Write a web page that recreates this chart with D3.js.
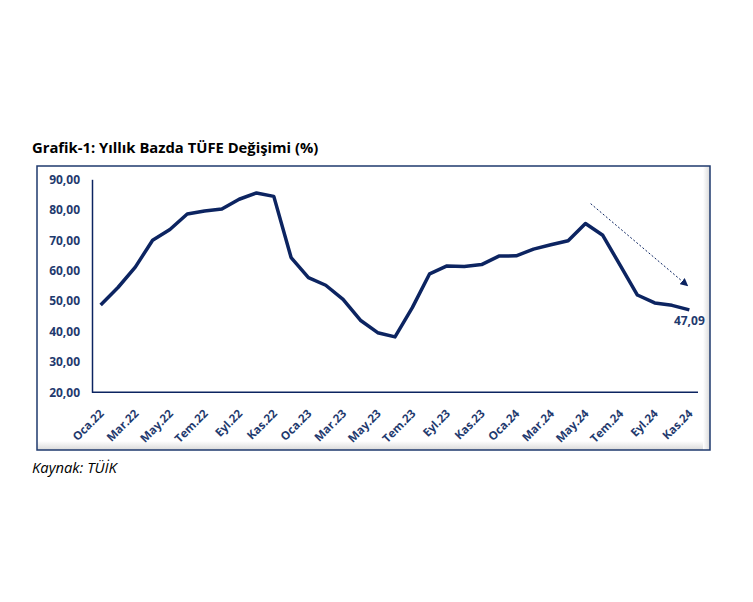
<!DOCTYPE html>
<html><head><meta charset="utf-8">
<script src="https://cdn.jsdelivr.net/npm/d3@7"></script>
<style>body{margin:0;background:#fff;}svg{display:block;}</style>
</head><body>
<svg id="c" width="753" height="602"></svg>
<script>
const months = ["Oca.22","Şub.22","Mar.22","Nis.22","May.22","Haz.22","Tem.22","Ağu.22","Eyl.22","Eki.22","Kas.22","Ara.22",
"Oca.23","Şub.23","Mar.23","Nis.23","May.23","Haz.23","Tem.23","Ağu.23","Eyl.23","Eki.23","Kas.23","Ara.23",
"Oca.24","Şub.24","Mar.24","Nis.24","May.24","Haz.24","Tem.24","Ağu.24","Eyl.24","Eki.24","Kas.24"];
const cpi = [48.69,54.44,61.14,69.97,73.50,78.62,79.60,80.21,83.45,85.51,84.39,64.27,
57.68,55.18,50.51,43.68,39.59,38.21,47.83,58.94,61.53,61.36,61.98,64.77,
64.86,67.07,68.50,69.80,75.45,71.60,61.78,51.97,49.38,48.58,47.09];
const yTicks = [20,30,40,50,60,70,80,90];
const title = "Grafik-1: Yıllık Bazda TÜFE Değişimi (%)";
const source = "Kaynak: TÜİK";
const lastLabel = "47,09";
// trend arrow (index position, value)
const arrowFrom = [28.3, 82];
const arrowTo = [33.9, 55];

const navy = "#0c2461", txt = "#1f3a6e";
const font = "'Open Sans', sans-serif";
const svg = d3.select("#c");

const defs = svg.append("defs");
const gb = defs.append("linearGradient").attr("id","gb").attr("x1",0).attr("y1",0).attr("x2",0).attr("y2",1);
gb.append("stop").attr("offset","0%").attr("stop-color","#fff");
gb.append("stop").attr("offset","100%").attr("stop-color","#d9d9d9");
const gr = defs.append("linearGradient").attr("id","gr").attr("x1",0).attr("y1",0).attr("x2",1).attr("y2",0);
gr.append("stop").attr("offset","0%").attr("stop-color","#fff");
gr.append("stop").attr("offset","100%").attr("stop-color","#d9d9d9");
defs.append("marker").attr("id","ah").attr("viewBox","0 0 10 10").attr("refX",9).attr("refY",5)
  .attr("markerWidth",8).attr("markerHeight",8).attr("orient","auto")
  .append("path").attr("d","M0,0L10,5L0,10z").attr("fill",navy);

// frame
svg.append("rect").attr("x",37).attr("y",441).attr("width",673).attr("height",9).attr("fill","url(#gb)");
svg.append("rect").attr("x",703).attr("y",166).attr("width",7).attr("height",284).attr("fill","url(#gr)");
svg.append("rect").attr("x",37).attr("y",166).attr("width",673).attr("height",284)
  .attr("fill","none").attr("stroke","#1f3a6e").attr("stroke-width",1.5);

svg.append("text").attr("x",32).attr("y",153).attr("font-family",font).attr("font-weight",700)
  .attr("font-size",14.8).attr("fill","#000").text(title);
svg.append("text").attr("x",32).attr("y",473).attr("font-family",font).attr("font-style","italic")
  .attr("font-size",14.8).attr("fill","#000").text(source);

const x = d3.scaleBand().domain(months).range([92,698]);
const y = d3.scaleLinear().domain([20,90]).range([392.3,179.3]);
const cx = i => x(months[0]) + x.bandwidth()/2 + i*x.step();

// axes
const ya = svg.append("g").attr("transform","translate(92,0)")
  .call(d3.axisLeft(y).tickValues(yTicks).tickSize(0).tickPadding(12).tickFormat(d=>d3.format(".2f")(d).replace(".",",")));
ya.select(".domain").attr("stroke",navy).attr("stroke-width",1.5);
ya.selectAll("text").attr("font-family",font).attr("font-weight",700).attr("font-size",12).attr("fill",txt);

const xa = svg.append("g").attr("transform","translate(0,392.3)")
  .call(d3.axisBottom(x).tickValues(months.filter((d,i)=>i%2===0)).tickSize(0).tickPadding(0));
xa.select(".domain").attr("stroke",navy).attr("stroke-width",1.5).attr("d","M92,0H698");
xa.selectAll("text").attr("font-family",font).attr("font-weight",700).attr("font-size",11.5).attr("fill",txt)
  .attr("text-anchor","end").attr("dy",0).attr("transform","translate(4,22) rotate(-45)");

// line
svg.append("path").datum(cpi)
  .attr("d", d3.line().x((d,i)=>cx(i)).y(d=>y(d)))
  .attr("fill","none").attr("stroke",navy).attr("stroke-width",3.5).attr("stroke-linejoin","round");

// arrow
svg.append("line").attr("x1",cx(arrowFrom[0])).attr("y1",y(arrowFrom[1]))
  .attr("x2",cx(arrowTo[0])).attr("y2",y(arrowTo[1]))
  .attr("stroke",navy).attr("stroke-width",1).attr("stroke-dasharray","2,2").attr("marker-end","url(#ah)");

// last label
svg.append("text").attr("x",cx(cpi.length-1)).attr("y",y(cpi[cpi.length-1])+15.5)
  .attr("text-anchor","middle").attr("font-family",font).attr("font-weight",700).attr("font-size",12)
  .attr("fill",txt).text(lastLabel);
</script>
</body></html>
